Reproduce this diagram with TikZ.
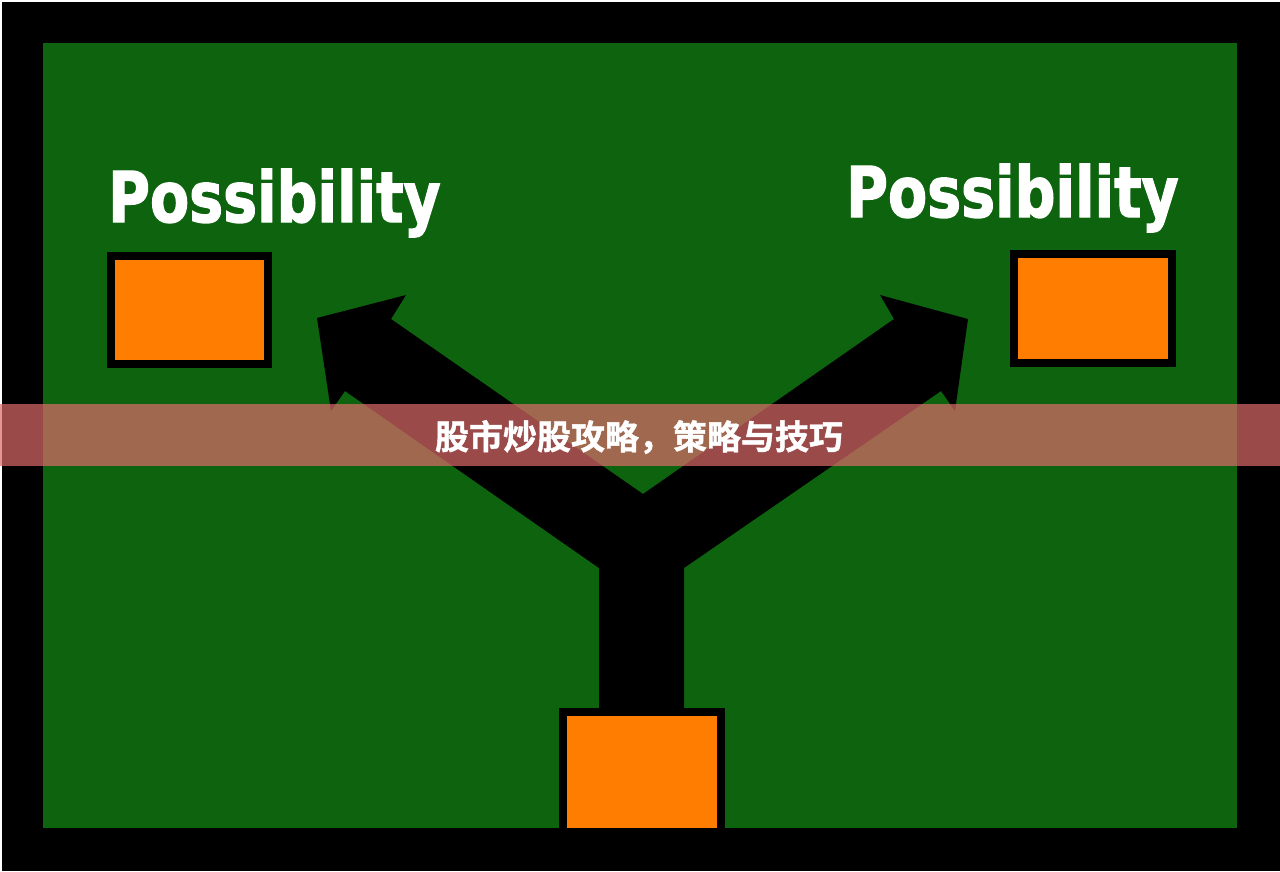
\documentclass[tikz,border=0pt]{standalone}
\usepackage{fontspec}
\usepackage{graphicx}
\newfontfamily\latinbold[FakeBold=2]{DejaVu Sans Bold}
\newfontfamily\cjk[FakeBold=1.2]{Noto Sans CJK SC Bold}
\usepackage{tikz}
\usetikzlibrary{positioning,backgrounds}
\definecolor{boardgreen}{RGB}{14,100,14}
\definecolor{slotorange}{RGB}{255,125,0}
\definecolor{bannerred}{RGB}{222,106,106}
\tikzset{
  slot/.style={draw=black,line width=8pt,fill=slotorange,inner sep=0pt,outer sep=0pt},
  word/.style={text=white,inner sep=0pt,anchor=base west,font=\latinbold\fontsize{70}{80}\selectfont}
}

\begin{document}
\begin{tikzpicture}[x=1pt,y=-1pt]
\useasboundingbox (0,0) rectangle (1280,871);
\fill[white] (0,0) rectangle (1280,871);
\fill[black] (2,2) rectangle (1280,871);
\fill[boardgreen] (43,43) rectangle (1237,828);
% the forked arrow
\fill[black] (599,708) -- (599,568) -- (345,391) -- (331,411) -- (317,318) -- (406,295)
  -- (391,319) -- (643,494) -- (894,319) -- (880,295) -- (968,319) -- (955,411)
  -- (941,391) -- (684,568) -- (684,708) -- cycle;
\node[slot,minimum width=157pt,minimum height=108pt] (left) at (189.5,310) {};
\node[slot,minimum width=158pt,minimum height=109pt] (right) at (1093,308.5) {};
\node[slot,minimum width=158pt,minimum height=120pt] (start) at (642,772) {};
\node[word] (lefttext) at (108,222) {\scalebox{0.815}[1]{Possibility}};
\node[word] (righttext) at (846,217) {\scalebox{0.815}[1]{Possibility}};
% banner
\fill[bannerred,opacity=0.7] (0,404) rectangle (1280,466);
\node[text=white,font=\cjk\fontsize{34}{40}\selectfont] (title) at (639,437) {股市炒股攻略，策略与技巧};
\end{tikzpicture}
\end{document}
